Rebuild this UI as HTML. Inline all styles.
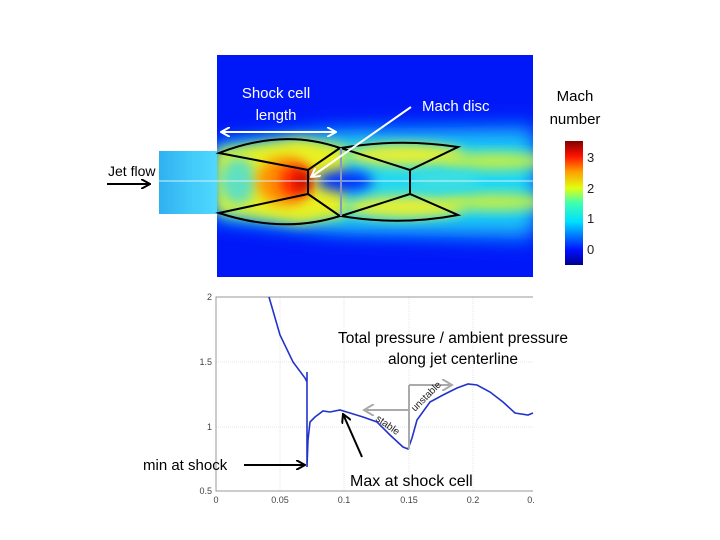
<!DOCTYPE html>
<html><head><style>
html,body{margin:0;padding:0;background:#fff;}
svg{display:block;}
text{font-family:"Liberation Sans",sans-serif;}
</style></head><body>
<svg width="720" height="540" viewBox="0 0 720 540" xmlns="http://www.w3.org/2000/svg">
<defs>
<filter id="b1" x="-50%" y="-50%" width="200%" height="200%"><feGaussianBlur stdDeviation="10"/></filter>
<filter id="b2" x="-50%" y="-50%" width="200%" height="200%"><feGaussianBlur stdDeviation="6"/></filter>
<clipPath id="cp"><rect x="217" y="55" width="316" height="222"/></clipPath>
<linearGradient id="cb" x1="0" y1="1" x2="0" y2="0">
<stop offset="0" stop-color="#00008f"/><stop offset="0.12" stop-color="#0010ff"/>
<stop offset="0.35" stop-color="#00e0ff"/><stop offset="0.5" stop-color="#40ffb0"/>
<stop offset="0.62" stop-color="#e0ff10"/><stop offset="0.75" stop-color="#ffa000"/>
<stop offset="0.88" stop-color="#ff1000"/><stop offset="1" stop-color="#800000"/>
</linearGradient>
<linearGradient id="noz" x1="0" y1="0" x2="1" y2="0">
<stop offset="0" stop-color="#30b0f0"/><stop offset="0.5" stop-color="#40c8f8"/><stop offset="1" stop-color="#50d8ff"/>
</linearGradient>
<marker id="aw" markerWidth="10" markerHeight="10" refX="9" refY="5" orient="auto-start-reverse" markerUnits="userSpaceOnUse"><path d="M0,0 L9,5 L0,10" fill="none" stroke="#fff" stroke-width="2"/></marker>
<marker id="ak" markerWidth="10" markerHeight="10" refX="9" refY="5" orient="auto" markerUnits="userSpaceOnUse"><path d="M0,0 L9,5 L0,10" fill="none" stroke="#000" stroke-width="2"/></marker>
<marker id="ag" markerWidth="12" markerHeight="12" refX="10" refY="6" orient="auto" markerUnits="userSpaceOnUse"><path d="M0,0 L10,6 L0,12" fill="none" stroke="#aaa" stroke-width="2"/></marker>
</defs>

<rect x="159" y="151" width="58" height="63" fill="url(#noz)"/>
<rect x="217" y="55" width="316" height="222" fill="#0018f8"/>
<g clip-path="url(#cp)">
 <path d="M217,145 L330,130 L533,125 L533,240 L330,232 L217,218 Z" fill="#0a90ff" filter="url(#b1)"/>
 <path d="M217,148 L350,138 L533,140 L533,225 L350,226 L217,215 Z" fill="#20d8f0" filter="url(#b1)"/>
 <path d="M217,150 L300,138 L345,146 L345,216 L300,224 L217,212 Z" fill="#e8f020" filter="url(#b2)"/>
 <ellipse cx="405" cy="155" rx="60" ry="11" fill="#e8f030" filter="url(#b2)"/>
 <ellipse cx="405" cy="207" rx="60" ry="11" fill="#e8f030" filter="url(#b2)"/>
 <ellipse cx="495" cy="161" rx="55" ry="8" fill="#c8f040" filter="url(#b2)"/>
 <ellipse cx="495" cy="202" rx="55" ry="8" fill="#c8f040" filter="url(#b2)"/>
 <ellipse cx="238" cy="181" rx="18" ry="24" fill="#60e0c0" filter="url(#b2)"/>
 <ellipse cx="285" cy="181" rx="28" ry="24" fill="#ff9000" filter="url(#b2)"/>
 <ellipse cx="295" cy="181" rx="15" ry="16" fill="#ff2000" filter="url(#b2)"/>
 <ellipse cx="303" cy="181" rx="6" ry="10" fill="#b00000" filter="url(#b2)"/>
 <ellipse cx="345" cy="181" rx="28" ry="11" fill="#0030ff" filter="url(#b2)"/>
 <ellipse cx="445" cy="181" rx="35" ry="8" fill="#40e0e0" filter="url(#b2)"/>
</g>
<line x1="159" y1="181" x2="533" y2="181" stroke="#d0f0ff" stroke-width="1"/>
<g fill="none" stroke="#000" stroke-width="2">
<path d="M219,153 Q283,128 340,148 L308,170 Z"/>
<path d="M219,213 Q283,234 340,216 L308,194 Z"/>
<line x1="308" y1="170" x2="308" y2="194"/>
<path d="M341,148 Q400,138 458,147 L410,170 Z"/>
<path d="M341,216 Q400,226 458,215 L410,194 Z"/>
<line x1="410" y1="170" x2="410" y2="194"/>
</g>
<line x1="341" y1="148" x2="341" y2="216" stroke="#8899bb" stroke-width="2"/>
<text x="276" y="98" font-size="15" fill="#fff" text-anchor="middle">Shock cell</text>
<text x="276" y="120" font-size="15" fill="#fff" text-anchor="middle">length</text>
<line x1="221" y1="132" x2="336" y2="132" stroke="#fff" stroke-width="2" marker-start="url(#aw)" marker-end="url(#aw)"/>
<text x="422" y="111" font-size="15" fill="#fff">Mach disc</text>
<line x1="411" y1="107" x2="311" y2="177" stroke="#fff" stroke-width="2" marker-end="url(#aw)"/>
<text x="108" y="176" font-size="14" fill="#000">Jet flow</text>
<line x1="107" y1="184" x2="150" y2="184" stroke="#000" stroke-width="2" marker-end="url(#ak)"/>
<text x="575" y="101" font-size="15" fill="#000" text-anchor="middle">Mach</text>
<text x="575" y="124" font-size="15" fill="#000" text-anchor="middle">number</text>
<rect x="565" y="141" width="18" height="124" fill="url(#cb)"/>
<g font-size="13" fill="#222"><text x="587" y="162">3</text><text x="587" y="193">2</text><text x="587" y="223">1</text><text x="587" y="254">0</text></g>

<g stroke="#e4e4e4" stroke-width="1" stroke-dasharray="1,1">
<line x1="280" y1="297" x2="280" y2="491"/><line x1="344" y1="297" x2="344" y2="491"/>
<line x1="409" y1="297" x2="409" y2="491"/><line x1="473" y1="297" x2="473" y2="491"/>
<line x1="216" y1="362" x2="533" y2="362"/><line x1="216" y1="427" x2="533" y2="427"/>
</g>
<polyline points="533,297 216,297 216,491 533,491" fill="none" stroke="#999" stroke-width="1"/>
<g font-size="9" fill="#444" text-anchor="end">
<text x="212" y="300">2</text><text x="212" y="365">1.5</text><text x="212" y="430">1</text><text x="212" y="494">0.5</text>
</g>
<g font-size="9" fill="#444" text-anchor="middle">
<text x="216" y="503">0</text><text x="280" y="503">0.05</text><text x="344" y="503">0.1</text><text x="409" y="503">0.15</text><text x="473" y="503">0.2</text><text x="531" y="503">0.</text>
</g>
<polyline fill="none" stroke="#2233cc" stroke-width="1.6" points="269,297 280,335 293,362 305,378 307,382 307,372 307,467 308,440 310,422 315,417 323,411 330,412 340,410 350,413 363,417 377,422 390,435 403,447 408,449 412,438 417,420 430,402 443,395 457,388 468,384 477,385 490,392 503,402 515,413 528,415 533,413"/>
<text x="453" y="343" font-size="15.5" fill="#000" text-anchor="middle">Total pressure / ambient pressure</text>
<text x="453" y="364" font-size="15.5" fill="#000" text-anchor="middle">along jet centerline</text>
<g stroke="#aaa" stroke-width="2" fill="none">
<line x1="409" y1="410" x2="364" y2="410" marker-end="url(#ag)"/>
<line x1="409" y1="449" x2="409" y2="385"/>
<line x1="409" y1="385" x2="452" y2="385" marker-end="url(#ag)"/>
</g>
<text x="0" y="0" font-size="10" fill="#222" transform="translate(375,420) rotate(35)">stable</text>
<text x="0" y="0" font-size="10" fill="#222" transform="translate(415,412) rotate(-45)">unstable</text>
<text x="143" y="470" font-size="15" fill="#000">min at shock</text>
<line x1="244" y1="465" x2="305" y2="465" stroke="#000" stroke-width="2" marker-end="url(#ak)"/>
<text x="350" y="486" font-size="16" fill="#000">Max at shock cell</text>
<line x1="362" y1="457" x2="343" y2="414" stroke="#000" stroke-width="2" marker-end="url(#ak)"/>
</svg>
</body></html>
